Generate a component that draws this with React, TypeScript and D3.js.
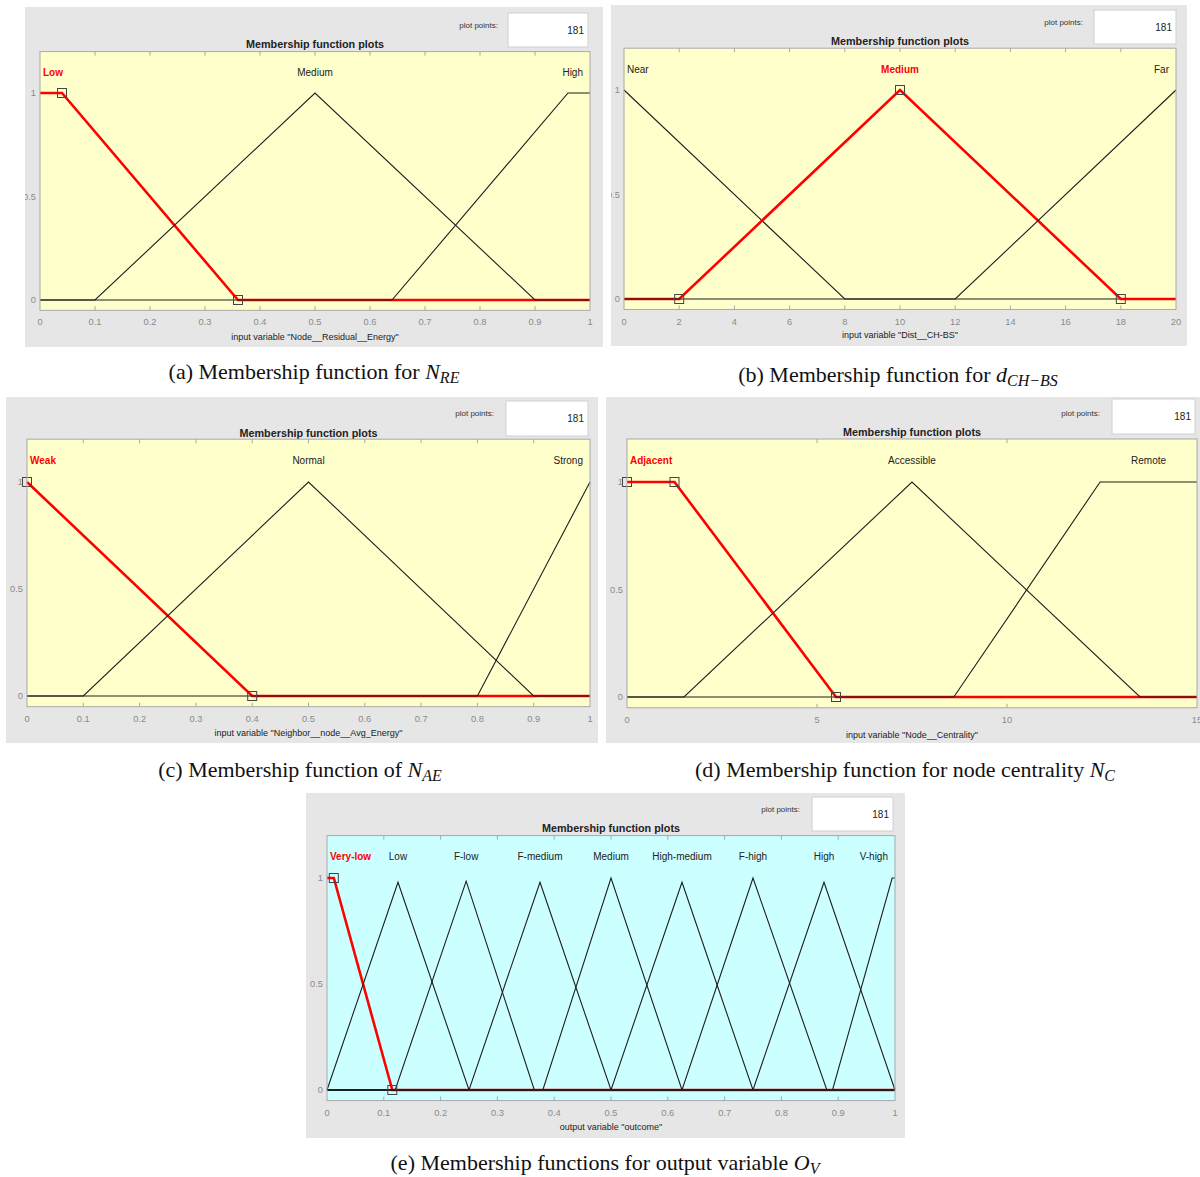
import React, { useEffect, useRef } from "react";
import * as d3 from "d3";

// ---------------- DATA ----------------
const namesA = ["Low", "Medium", "High"];
const paramsA = [[-0.04, 0, 0.04, 0.36], [0.1, 0.5, 0.5, 0.9], [0.64, 0.96, 1, 1.04]];
const squaresA = [[0.04, 1], [0.36, 0]];
const ticksA = [0, 0.1, 0.2, 0.3, 0.4, 0.5, 0.6, 0.7, 0.8, 0.9, 1];
const tickLabelsA = ["0", "0.1", "0.2", "0.3", "0.4", "0.5", "0.6", "0.7", "0.8", "0.9", "1"];
const xlabelA = 'input variable "Node__Residual__Energy"';

const namesB = ["Near", "Medium", "Far"];
const paramsB = [[-8, 0, 0, 8], [2, 10, 10, 18], [12, 20, 20, 28]];
const squaresB = [[2, 0], [10, 1], [18, 0]];
const ticksB = [0, 2, 4, 6, 8, 10, 12, 14, 16, 18, 20];
const tickLabelsB = ["0", "2", "4", "6", "8", "10", "12", "14", "16", "18", "20"];
const xlabelB = 'input variable "Dist__CH-BS"';

const namesC = ["Weak", "Normal", "Strong"];
const paramsC = [[-0.4, 0, 0, 0.4], [0.1, 0.5, 0.5, 0.9], [0.8, 1, 1, 1.2]];
const squaresC = [[0, 1], [0.4, 0]];
const ticksC = [0, 0.1, 0.2, 0.3, 0.4, 0.5, 0.6, 0.7, 0.8, 0.9, 1];
const tickLabelsC = ["0", "0.1", "0.2", "0.3", "0.4", "0.5", "0.6", "0.7", "0.8", "0.9", "1"];
const xlabelC = 'input variable "Neighbor__node__Avg_Energy"';

const namesD = ["Adjacent", "Accessible", "Remote"];
const paramsD = [[-1.25, 0, 1.25, 5.5], [1.5, 7.5, 7.5, 13.5], [8.6, 12.45, 15, 16]];
const squaresD = [[0, 1], [1.25, 1], [5.5, 0]];
const ticksD = [0, 5, 10, 15];
const tickLabelsD = ["0", "5", "10", "15"];
const xlabelD = 'input variable "Node__Centrality"';

const namesE = ["Very-low", "Low", "F-low", "F-medium", "Medium", "High-medium", "F-high", "High", "V-high"];
const paramsE = [
  [-0.1, 0, 0.012, 0.115],
  [0, 0.125, 0.125, 0.25],
  [0.12, 0.245, 0.245, 0.365],
  [0.25, 0.375, 0.375, 0.5],
  [0.38, 0.5, 0.5, 0.625],
  [0.5, 0.625, 0.625, 0.75],
  [0.625, 0.75, 0.75, 0.88],
  [0.75, 0.875, 0.875, 1],
  [0.89, 0.995, 1, 1.1],
];
const peaksE = [1, 0.98, 0.985, 0.98, 1, 0.98, 1, 0.98, 1];
const squaresE = [[0.012, 1], [0.115, 0]];
const ticksE = [0, 0.1, 0.2, 0.3, 0.4, 0.5, 0.6, 0.7, 0.8, 0.9, 1];
const tickLabelsE = ["0", "0.1", "0.2", "0.3", "0.4", "0.5", "0.6", "0.7", "0.8", "0.9", "1"];
const xlabelE = 'output variable "outcome"';

const yTicks = [0, 0.5, 1];
const yTickLabels = ["0", "0.5", "1"];
const plotPoints = "181";

const captions = [
  ["(a) Membership function for ", "N", "RE"],
  ["(b) Membership function for ", "d", "CH\u2212BS"],
  ["(c) Membership function of ", "N", "AE"],
  ["(d) Membership function for node centrality ", "N", "C"],
  ["(e) Membership functions for output variable ", "O", "V"],
];

// ---------------- LAYOUT ----------------
const panels = [
  { names: namesA, params: paramsA, peaks: null, squares: squaresA, ticks: ticksA, tickLabels: tickLabelsA, xlabel: xlabelA, domain: [0, 1], selected: 0, bg: "#ffffcc",
    L: { gx: 25, gy: 7, gw: 578, gh: 340, x0: 40, x1: 590, v0: 300, v1: 93, titleY: 44, tickY: 322, xlabelY: 337, ppX: 498, ppY: 25, box: [508, 13, 80, 34] } },
  { names: namesB, params: paramsB, peaks: null, squares: squaresB, ticks: ticksB, tickLabels: tickLabelsB, xlabel: xlabelB, domain: [0, 20], selected: 1, bg: "#ffffcc",
    L: { gx: 611, gy: 5, gw: 576, gh: 341, x0: 624, x1: 1176, v0: 299, v1: 90, titleY: 41, tickY: 322, xlabelY: 335, ppX: 1083, ppY: 22, box: [1094, 10, 82, 34] } },
  { names: namesC, params: paramsC, peaks: null, squares: squaresC, ticks: ticksC, tickLabels: tickLabelsC, xlabel: xlabelC, domain: [0, 1], selected: 0, bg: "#ffffcc",
    L: { gx: 6, gy: 397, gw: 592, gh: 346, x0: 27, x1: 590, v0: 696, v1: 482, titleY: 433, tickY: 719, xlabelY: 733, ppX: 494, ppY: 413, box: [506, 401, 82, 35] } },
  { names: namesD, params: paramsD, peaks: null, squares: squaresD, ticks: ticksD, tickLabels: tickLabelsD, xlabel: xlabelD, domain: [0, 15], selected: 0, bg: "#ffffcc",
    L: { gx: 606, gy: 397, gw: 594, gh: 346, x0: 627, x1: 1197, v0: 697, v1: 482, titleY: 432, tickY: 720, xlabelY: 735, ppX: 1100, ppY: 413, box: [1112, 399, 83, 35] } },
  { names: namesE, params: paramsE, peaks: peaksE, squares: squaresE, ticks: ticksE, tickLabels: tickLabelsE, xlabel: xlabelE, domain: [0, 1], selected: 0, bg: "#ccffff",
    L: { gx: 306, gy: 793, gw: 599, gh: 345, x0: 327, x1: 895, v0: 1090, v1: 878, titleY: 828, tickY: 1113, xlabelY: 1127, ppX: 800, ppY: 809, box: [812, 797, 81, 34] } },
];

const captionPos = [
  [314, 372], [898, 375], [300, 770], [905, 770], [605, 1163],
];

const SANS = "'Liberation Sans', Arial, Helvetica, sans-serif";
const SERIF = "'Liberation Serif', 'Times New Roman', serif";

function trap(x: number, p: number[]) {
  const [a, b, c, d] = p;
  if (x < b) return x <= a ? 0 : (x - a) / (b - a);
  if (x <= c) return 1;
  return x >= d ? 0 : (d - x) / (d - c);
}

function mfPoints(p: number[], dom: number[], peak: number) {
  const xs = Array.from(new Set([dom[0], ...p.filter((v) => v > dom[0] && v < dom[1]), dom[1]])).sort((a, b) => a - b);
  return xs.map((x) => [x, peak * trap(x, p)] as [number, number]);
}

export default function App() {
  const ref = useRef<SVGSVGElement>(null);
  useEffect(() => {
    const svg = d3.select(ref.current);
    svg.selectAll("*").remove();
    const defs = svg.append("defs");

    panels.forEach((P, pi) => {
      const L = P.L;
      defs.append("clipPath").attr("id", "clip" + pi)
        .append("rect").attr("x", L.gx).attr("y", L.gy).attr("width", L.gw).attr("height", L.gh);
      const g = svg.append("g").attr("clip-path", `url(#clip${pi})`);
      g.append("rect").attr("x", L.gx).attr("y", L.gy).attr("width", L.gw).attr("height", L.gh).attr("fill", "#e6e6e6");

      const x = d3.scaleLinear().domain(P.domain).range([L.x0, L.x1]);
      const y = d3.scaleLinear().domain([0, 1]).range([L.v0, L.v1]);
      const top = y(1.2), bot = y(-0.05);

      // plot points box
      g.append("text").attr("x", L.ppX).attr("y", L.ppY).attr("text-anchor", "end").attr("dominant-baseline", "central")
        .attr("font-family", SANS).attr("font-size", 8).attr("fill", "#333").text("plot points:");
      const [bx, by, bw, bh] = L.box;
      g.append("rect").attr("x", bx).attr("y", by).attr("width", bw).attr("height", bh).attr("fill", "#fff").attr("stroke", "#d0d0d0");
      g.append("text").attr("x", bx + bw - 4).attr("y", by + bh / 2).attr("text-anchor", "end").attr("dominant-baseline", "central")
        .attr("font-family", SANS).attr("font-size", 10).attr("fill", "#222").text(plotPoints);

      // title
      g.append("text").attr("x", (L.x0 + L.x1) / 2).attr("y", L.titleY).attr("text-anchor", "middle").attr("dominant-baseline", "central")
        .attr("font-family", SANS).attr("font-size", 10.8).attr("font-weight", "bold").attr("fill", "#222").text("Membership function plots");

      // plot bg
      g.append("rect").attr("x", L.x0).attr("y", top).attr("width", L.x1 - L.x0).attr("height", bot - top).attr("fill", P.bg);

      // MF lines
      const line = d3.line<[number, number]>().x((d) => x(d[0])).y((d) => y(d[1]));
      P.params.forEach((p, i) => {
        const pk = P.peaks ? P.peaks[i] : 1;
        const pts = mfPoints(p, P.domain, pk);
        const sel = i === P.selected;
        g.append("path").attr("d", line(pts)).attr("fill", "none")
          .attr("stroke", sel ? "#ff0000" : "#1e1e1e").attr("stroke-width", sel ? 2.6 : 1.1)
          .attr("stroke-linejoin", "miter");
      });

      // squares
      P.squares.forEach((s) => {
        g.append("rect").attr("x", x(s[0]) - 4.5).attr("y", y(s[1]) - 4.5).attr("width", 9).attr("height", 9)
          .attr("fill", "none").attr("stroke", "#444").attr("stroke-width", 1);
      });

      // border
      g.append("rect").attr("x", L.x0).attr("y", top).attr("width", L.x1 - L.x0).attr("height", bot - top)
        .attr("fill", "none").attr("stroke", "#a8a8a8").attr("stroke-width", 1);

      // ticks
      P.ticks.forEach((t, i) => {
        const tx = x(t);
        if (i > 0 && i < P.ticks.length - 1) {
          g.append("line").attr("x1", tx).attr("x2", tx).attr("y1", top).attr("y2", top + 4).attr("stroke", "#a8a8a8");
          g.append("line").attr("x1", tx).attr("x2", tx).attr("y1", bot).attr("y2", bot - 4).attr("stroke", "#a8a8a8");
        }
        g.append("text").attr("x", tx).attr("y", L.tickY).attr("text-anchor", "middle").attr("dominant-baseline", "central")
          .attr("font-family", SANS).attr("font-size", 9.3).attr("fill", "#8a8a8a").text(P.tickLabels[i]);
      });
      yTicks.forEach((t, i) => {
        g.append("text").attr("x", L.x0 - 4).attr("y", y(t)).attr("text-anchor", "end").attr("dominant-baseline", "central")
          .attr("font-family", SANS).attr("font-size", 9.3).attr("fill", "#8a8a8a").text(yTickLabels[i]);
      });

      // xlabel
      g.append("text").attr("x", (L.x0 + L.x1) / 2).attr("y", L.xlabelY).attr("text-anchor", "middle").attr("dominant-baseline", "central")
        .attr("font-family", SANS).attr("font-size", 9).attr("fill", "#222").text(P.xlabel);

      // MF names
      P.params.forEach((p, i) => {
        const lo = Math.max(p[1], P.domain[0]);
        const hi = Math.min(p[2], P.domain[1]);
        const cx = x((lo + hi) / 2);
        const sel = i === P.selected;
        const t = g.append("text").attr("x", cx).attr("y", y(1.1)).attr("text-anchor", "middle").attr("dominant-baseline", "central")
          .attr("font-family", SANS).attr("font-size", 10).attr("font-weight", sel ? "bold" : "normal")
          .attr("fill", sel ? "#ff0000" : "#222").text(P.names[i]);
        const w = (t.node() as SVGTextElement).getComputedTextLength();
        const minX = L.x0 + 3 + w / 2;
        const maxX = L.x1 - 7 - w / 2;
        t.attr("x", Math.max(minX, Math.min(maxX, cx)));
      });
    });

    // captions
    captions.forEach((c, i) => {
      const [cx, cy] = captionPos[i];
      const t = svg.append("text").attr("x", cx).attr("y", cy + 7).attr("text-anchor", "middle")
        .attr("font-family", SERIF).attr("font-size", 22).attr("fill", "#111");
      t.append("tspan").text(c[0]);
      t.append("tspan").attr("font-style", "italic").text(c[1]);
      t.append("tspan").attr("font-style", "italic").attr("font-size", 16).attr("dy", 4).text(c[2]);
    });
  }, []);

  return (
    <svg ref={ref} width={1200} height={1177} style={{ position: "absolute", left: 0, top: 0, background: "#fff" }} />
  );
}
